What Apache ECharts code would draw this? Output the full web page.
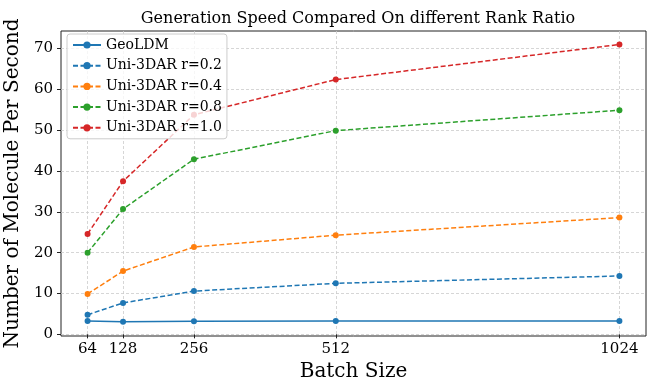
<!DOCTYPE html>
<html>
<head>
<meta charset="utf-8">
<script src="https://cdn.jsdelivr.net/npm/echarts@6/dist/echarts.min.js"></script>
<style>
html, body { margin: 0; padding: 0; background: #fff; }
#main { width: 654px; height: 392px; }
</style>
</head>
<body>
<div id="main"></div>
<script>
var batchSizes = [64, 128, 256, 512, 1024];
var seriesNames = ['GeoLDM', 'Uni-3DAR r=0.2', 'Uni-3DAR r=0.4', 'Uni-3DAR r=0.8', 'Uni-3DAR r=1.0'];
var geoldm = [3.3, 3.1, 3.2, 3.3, 3.3];
var r02 = [4.8, 7.7, 10.6, 12.5, 14.3];
var r04 = [9.9, 15.5, 21.4, 24.3, 28.6];
var r08 = [20.0, 30.7, 42.9, 49.9, 54.9];
var r10 = [24.6, 37.5, 53.8, 62.4, 71.0];
var yTicks = [0, 10, 20, 30, 40, 50, 60, 70];

var colors = ['#1f77b4', '#1f77b4', '#ff7f0e', '#2ca02c', '#d62728'];
var allValues = [geoldm, r02, r04, r08, r10];
var serif = 'DejaVu Serif';

function pairs(vals) {
	var out = [];
	for (var i = 0; i < batchSizes.length; i++) {
		out.push([batchSizes[i], vals[i]]);
	}
	return out;
}

var chart = echarts.init(document.getElementById('main'));

var series = [];
for (var i = 0; i < seriesNames.length; i++) {
	series.push({
		name: seriesNames[i],
		type: 'line',
		data: pairs(allValues[i]),
		symbol: 'circle',
		symbolSize: 6,
		color: colors[i],
		z: 3,
		lineStyle: {
			width: 1.5,
			type: i == 0 ? 'solid' : [5, 2.5]
		},
		itemStyle: { color: colors[i] },
		animation: false
	});
}

var option = {
	animation: false,
	title: {
		text: 'Generation Speed Compared On different Rank Ratio',
		left: 353,
		textAlign: 'center',
		top: 6,
		textStyle: { fontFamily: serif, fontSize: 16, fontWeight: 'normal', color: '#000' }
	},
	grid: {
		left: 61, right: 8, top: 31, bottom: 56,
		outerBoundsMode: 'none',
		containLabel: false,
		show: true,
		borderColor: '#222',
		borderWidth: 1,
		backgroundColor: 'transparent'
	},
	legend: {
		orient: 'vertical',
		left: 67,
		top: 34,
		z: 10,
		padding: [4, 5, 4, 5],
		itemGap: 6.7,
		itemWidth: 28,
		itemHeight: 9,
		backgroundColor: 'rgba(255,255,255,0.8)',
		borderColor: '#ccc',
		borderWidth: 1,
		borderRadius: 3,
		data: seriesNames,
		textStyle: { fontFamily: serif, fontSize: 14, color: '#000', lineHeight: 14 }
	},
	xAxis: {
		type: 'value',
		min: 16,
		max: 1072,
		name: 'Batch Size',
		nameLocation: 'middle',
		nameGap: 24,
		nameTextStyle: { fontFamily: serif, fontSize: 20, color: '#000' },
		axisLine: { show: false },
		axisTick: { show: true, length: 4, customValues: batchSizes, lineStyle: { color: '#222' } },
		axisLabel: {
			customValues: batchSizes,
			formatter: function (v) { return String(v); },
			fontFamily: serif, fontSize: 15, color: '#000', margin: 6
		},
		splitLine: { show: true, lineStyle: { color: '#ccc', type: [3, 2], width: 0.8 } }
	},
	yAxis: {
		type: 'value',
		min: -0.4,
		max: 74.3,
		name: 'Number of Molecule Per Second',
		nameLocation: 'middle',
		nameGap: 32,
		nameTextStyle: { fontFamily: serif, fontSize: 20, color: '#000' },
		axisLine: { show: false },
		axisTick: { show: true, length: 4, customValues: yTicks, lineStyle: { color: '#222' } },
		axisLabel: {
			customValues: yTicks,
			formatter: function (v) { return String(v); },
			fontFamily: serif, fontSize: 15, color: '#000', margin: 8
		},
		splitLine: { show: true, lineStyle: { color: '#ccc', type: [3, 2], width: 0.8 } }
	},
	series: series
};

chart.setOption(option);
</script>
</body>
</html>
